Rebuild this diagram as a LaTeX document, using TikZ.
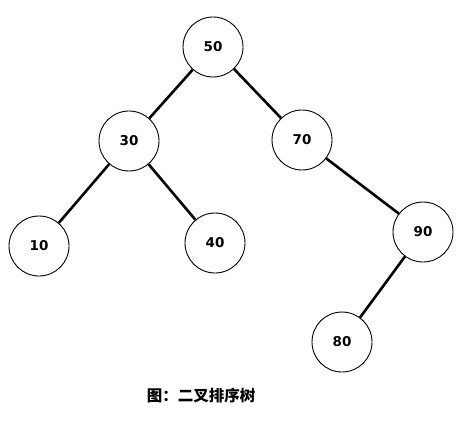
\documentclass[tikz,border=0pt]{standalone}
\usepackage{fontspec}
\setmainfont{DejaVu Sans}
\newfontfamily\cjk{Noto Sans CJK SC}
\begin{document}
\begin{tikzpicture}[x=1pt,y=-1pt,
  treenode/.style={circle,draw=black,line width=0.9pt,minimum size=60pt,inner sep=0pt,font=\fontsize{13.5}{16}\selectfont\bfseries},
  edge/.style={line width=2.6pt,black}]
\useasboundingbox[fill=white] (0,0) rectangle (462,446);
\node[treenode] (n50) at (213,47) {50};
\node[treenode] (n30) at (129,141) {30};
\node[treenode] (n70) at (302,140) {70};
\node[treenode] (n10) at (39,246) {10};
\node[treenode] (n40) at (215,243) {40};
\node[treenode] (n90) at (423,232) {90};
\node[treenode] (n80) at (342,342) {80};
\draw[edge] (n50) -- (n30);
\draw[edge] (n50) -- (n70);
\draw[edge] (n30) -- (n10);
\draw[edge] (n30) -- (n40);
\draw[edge] (n70) -- (n90);
\draw[edge] (n90) -- (n80);
\node[font=\cjk\fontsize{15.5}{17}\selectfont\bfseries] (cap) at (201,396) {图：二叉排序树};
\end{tikzpicture}
\end{document}
